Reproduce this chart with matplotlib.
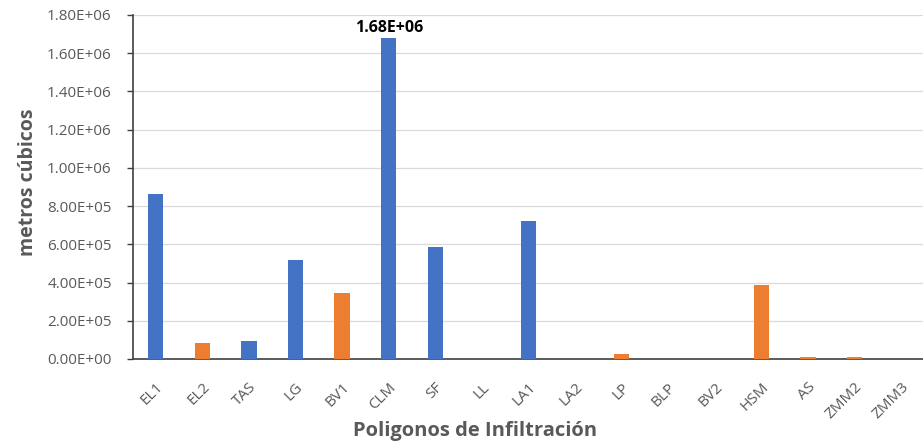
import matplotlib
matplotlib.use("Agg")
import matplotlib.pyplot as plt
from matplotlib.ticker import FuncFormatter, MultipleLocator
from matplotlib.transforms import ScaledTranslation

categories = ["EL1", "EL2", "TAS", "LG", "BV1", "CLM", "SF", "LL", "LA1", "LA2",
              "LP", "BLP", "BV2", "HSM", "AS", "ZMM2", "ZMM3"]
volumes = [8.62e5, 8.2e4, 9.6e4, 5.18e5, 3.45e5, 1.68e6, 5.86e5, 0, 7.22e5, 0,
           2.5e4, 0, 0, 3.87e5, 1.0e4, 1.0e4, 0]
groups = ["a", "b", "a", "a", "b", "a", "a", "a", "a", "a",
          "b", "a", "a", "b", "b", "b", "a"]
group_colors = {"a": "#4472C4", "b": "#ED7D31"}
labelled = "CLM"

plt.rcParams["font.family"] = ["Open Sans", "DejaVu Sans"]

W, H = 923, 446
fig = plt.figure(figsize=(W / 100, H / 100), dpi=100)
ax = fig.add_axes([132.5 / W, 87 / H, 792 / W, 344 / H])

x = list(range(len(categories)))
colors = [group_colors[g] for g in groups]
ax.bar(x, volumes, width=0.33, color=colors, zorder=3)

for xi, cat, v in zip(x, categories, volumes):
    if cat == labelled:
        ax.text(xi, v + 0.012e6, f"{v:.2E}", ha="center", va="bottom",
                fontsize=11.5, fontweight="bold", color="#000000", zorder=4)

ax.set_xlim(-0.5, len(categories) - 0.5)
ax.set_ylim(0, 1.8e6)
ax.yaxis.set_major_locator(MultipleLocator(2e5))
ax.yaxis.set_major_formatter(FuncFormatter(lambda v, p: f"{v:.2E}"))
ax.grid(axis="y", color="#D9D9D9", linewidth=0.9, zorder=0)

ax.set_xticks(x)
ax.set_xticklabels(categories, rotation=45, ha="right", va="top",
                   rotation_mode="anchor", fontsize=11, color="#595959")
shift = ScaledTranslation(5 / 72, 0, fig.dpi_scale_trans)
for lbl in ax.get_xticklabels():
    lbl.set_transform(lbl.get_transform() + shift)
ax.tick_params(axis="x", length=0, pad=15)
ax.tick_params(axis="y", length=4, width=1, color="#404040", labelsize=11,
               labelcolor="#595959", pad=11)

for side in ("top", "right"):
    ax.spines[side].set_visible(False)
for side in ("left", "bottom"):
    ax.spines[side].set_color("#404040")
    ax.spines[side].set_linewidth(1.2)

fig.text(28 / W, 1 - 182 / H, "metros cúbicos", rotation=90, ha="center",
         va="center", fontsize=14, fontweight="bold", color="#595959")
fig.text(475 / W, 1 - 431 / H, "Poligonos de Infiltración", ha="center",
         va="center", fontsize=14.5, fontweight="bold", color="#595959")

fig.savefig("out.png", dpi=100)
